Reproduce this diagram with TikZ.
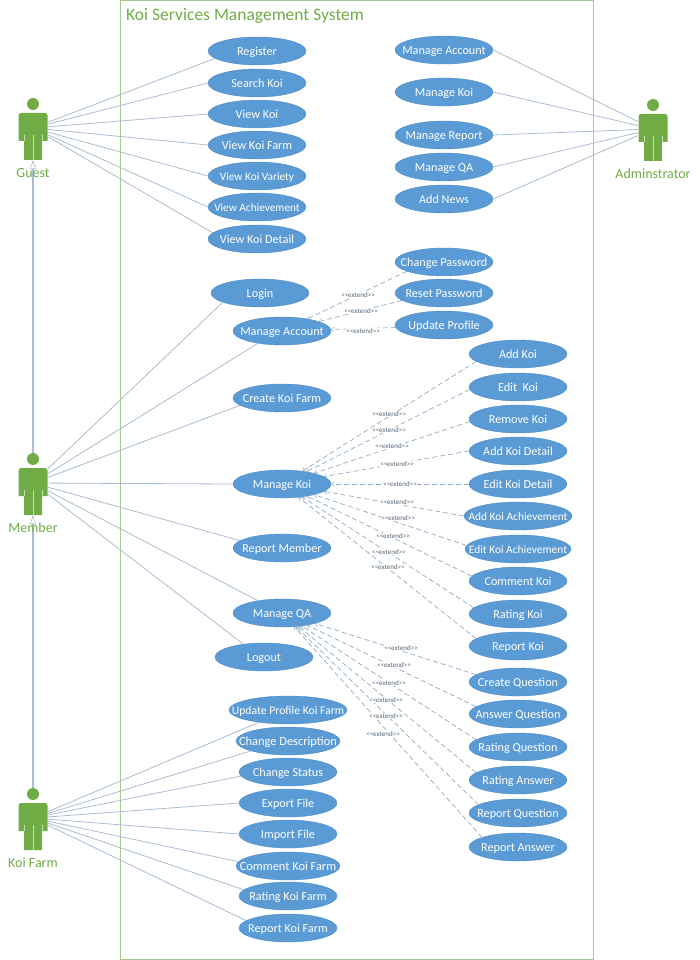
\documentclass[tikz,border=0pt]{standalone}
\usepackage{fontspec}
\setmainfont{Carlito}
\usetikzlibrary{arrows.meta,shapes.geometric}
\definecolor{usecaseblue}{HTML}{5B9BD5}
\definecolor{usecaseedge}{HTML}{4C8AC6}
\definecolor{actorgreen}{HTML}{6FAC46}
\definecolor{systemgreen}{HTML}{A9CB90}
\definecolor{linkgrey}{HTML}{A9BCD0}
\definecolor{extendgrey}{HTML}{8FAAC5}
\newcommand{\xtend}{<\kern0pt<extend>\kern0pt>}
\tikzset{
	usecase/.style={ellipse,fill=usecaseblue,draw=usecaseedge,line width=.4pt,minimum width=98pt,minimum height=28pt,inner xsep=-25pt,inner ysep=0pt,text height=9.5pt,text depth=0pt,text=white,font=\fontsize{12.2}{13}\selectfont},
	textsize/.style={font=\fontsize{#1}{13}\selectfont},
	assoc/.style={draw=linkgrey,line width=.8pt},
	inherit/.style={draw=linkgrey,line width=1.1pt,-{Triangle[open,length=9pt,width=6pt,line width=.6pt]}},
	extendline/.style={draw=extendgrey,line width=.7pt,dash pattern=on 5pt off 3pt,-{Straight Barb[length=3pt,width=5pt,line width=.4pt]}},
	extendlabel/.style={fill=white,inner sep=.3pt,text=extendgrey!60!black,font=\fontsize{7}{8}\selectfont},
	actorlabel/.style={text=actorgreen,font=\fontsize{14}{15}\selectfont,inner sep=0pt},
	actorman/.pic={
		\fill[actorgreen] (-14.5,13) [rounded corners=2.5pt] -- (-14.5,-15) -- (14.5,-15) [sharp corners] -- (14.5,13) -- (9,13) -- (9,32) -- (-9,32) -- (-9,13) -- cycle;
		\draw[white!60!actorgreen,line width=.7pt] (-9,7) -- (-9,13) (9,7) -- (9,13) (0,7) -- (0,32);
		\node[circle,fill=actorgreen,minimum size=12pt,inner sep=0pt] (-head) at (0,-24) {};
		\node[minimum width=30pt,minimum height=30pt,inner sep=0pt] (-body) at (0,0) {};
		\coordinate (-foot) at (0,32);
	}
}
\begin{document}
\begin{tikzpicture}[x=1pt,y=-1pt]
	\useasboundingbox (0,0) rectangle (699,960);
	\draw[systemgreen,line width=1pt] (120,1) rectangle (593,959);
	\node[anchor=west,text=actorgreen,inner sep=0pt,font=\fontsize{17.5}{18}\selectfont] (title) at (126,16) {Koi Services Management System};

	\pic (guest) at (33,128) {actorman};
	\pic (admin) at (653,129) {actorman};
	\pic (member) at (33,483) {actorman};
	\pic (koifarm) at (33,818) {actorman};

	% guest
	\node[usecase] (register) at (257,51) {Register};
	\node[usecase] (searchkoi) at (257,83) {Search Koi};
	\node[usecase] (viewkoi) at (257,114) {View Koi};
	\node[usecase] (viewfarm) at (257,145) {View Koi Farm};
	\node[usecase,textsize=11.3] (viewvariety) at (257,176) {View Koi Variety};
	\node[usecase,textsize=11.3] (viewachieve) at (257,207) {View Achievement};
	\node[usecase] (viewdetail) at (257,239) {View Koi Detail};

	% admin
	\node[usecase] (adminaccount) at (444,50) {Manage Account};
	\node[usecase] (adminkoi) at (444,92) {Manage Koi};
	\node[usecase] (adminreport) at (444,135) {Manage Report};
	\node[usecase] (adminqa) at (444,167) {Manage QA};
	\node[usecase] (adminnews) at (444,199) {Add News};

	% member
	\node[usecase] (login) at (260,293) {Login};
	\node[usecase] (account) at (282,331) {Manage Account};
	\node[usecase] (createfarm) at (282,398) {Create Koi Farm};
	\node[usecase] (managekoi) at (282,484) {Manage Koi};
	\node[usecase] (reportmember) at (282,548) {Report Member};
	\node[usecase] (manageqa) at (282,613) {Manage QA};
	\node[usecase] (logout) at (264,657) {Logout};

	\node[usecase] (changepw) at (444,262) {Change Password};
	\node[usecase] (resetpw) at (444,293) {Reset Password};
	\node[usecase] (updateprofile) at (444,325) {Update Profile};

	\node[usecase] (addkoi) at (518,354) {Add Koi};
	\node[usecase] (editkoi) at (518,387) {Edit~~Koi};
	\node[usecase] (removekoi) at (518,419) {Remove Koi};
	\node[usecase] (adddetail) at (518,451) {Add Koi Detail};
	\node[usecase] (editdetail) at (518,484) {Edit Koi Detail};
	\node[usecase,minimum width=108pt,textsize=11.4] (addachieve) at (518,516) {Add Koi Achievement};
	\node[usecase,minimum width=106pt,textsize=11.4] (editachieve) at (518,549) {Edit Koi Achievement};
	\node[usecase] (commentkoi) at (518,581) {Comment Koi};
	\node[usecase] (ratingkoi) at (518,614) {Rating Koi};
	\node[usecase] (reportkoi) at (518,646) {Report Koi};

	\node[usecase] (createq) at (518,682) {Create Question};
	\node[usecase] (answerq) at (518,714) {Answer Question};
	\node[usecase] (ratingq) at (518,747) {Rating Question};
	\node[usecase] (ratinga) at (518,780) {Rating Answer};
	\node[usecase] (reportq) at (518,813) {Report Question};
	\node[usecase] (reporta) at (518,847) {Report Answer};

	% koi farm
	\node[usecase,minimum width=118pt,textsize=11.7] (updatefarm) at (288,710) {Update Profile Koi Farm};
	\node[usecase,minimum width=104pt,textsize=12.4] (changedesc) at (288,741) {Change Description};
	\node[usecase] (changestatus) at (288,772) {Change Status};
	\node[usecase] (exportfile) at (288,803) {Export File};
	\node[usecase] (importfile) at (288,834) {Import File};
	\node[usecase,minimum width=104pt,textsize=12.4] (commentfarm) at (288,866) {Comment Koi Farm};
	\node[usecase] (ratingfarm) at (288,896) {Rating Koi Farm};
	\node[usecase] (reportfarm) at (288,928) {Report Koi Farm};

	\draw[assoc] (guest-body) -- (register.190);
	\draw[assoc] (guest-body) -- (searchkoi.west);
	\draw[assoc] (guest-body) -- (viewkoi.west);
	\draw[assoc] (guest-body) -- (viewfarm.west);
	\draw[assoc] (guest-body) -- (viewvariety.west);
	\draw[assoc] (guest-body) -- (viewachieve.west);
	\draw[assoc] (guest-body) -- (viewdetail.172);

	\draw[assoc] (admin-body) -- (adminaccount.east);
	\draw[assoc] (admin-body) -- (adminkoi.east);
	\draw[assoc] (admin-body) -- (adminreport.east);
	\draw[assoc] (admin-body) -- (adminqa.east);
	\draw[assoc] (admin-body) -- (adminnews.east);

	\draw[assoc] (member-body) -- (login.194);
	\draw[assoc] (member-body) -- (account.207);
	\draw[assoc] (member-body) -- (createfarm.190);
	\draw[assoc] (member-body) -- (managekoi.west);
	\draw[assoc] (member-body) -- (reportmember.170);
	\draw[assoc] (member-body) -- (manageqa.153);
	\draw[assoc] (member-body) -- (logout.148);

	\draw[assoc] (koifarm-body) -- (updatefarm.203);
	\draw[assoc] (koifarm-body) -- (changedesc.195);
	\draw[assoc] (koifarm-body) -- (changestatus.185);
	\draw[assoc] (koifarm-body) -- (exportfile.west);
	\draw[assoc] (koifarm-body) -- (importfile.west);
	\draw[assoc] (koifarm-body) -- (commentfarm.175);
	\draw[assoc] (koifarm-body) -- (ratingfarm.172);
	\draw[assoc] (koifarm-body) -- (reportfarm.170);

	\draw[inherit] (member-head) -- (guest-foot);
	\draw[inherit] (koifarm-head) -- (member-foot);

	\draw[extendline] (changepw.194) -- (account);
	\draw[extendline] (resetpw.190) -- (account);
	\draw[extendline] (updateprofile.183) -- (account);

	\draw[extendline] (addkoi.190) -- (managekoi);
	\draw[extendline] (editkoi.183) -- (managekoi);
	\draw[extendline] (removekoi.183) -- (managekoi);
	\draw[extendline] (adddetail.west) -- (managekoi);
	\draw[extendline] (editdetail.west) -- (managekoi);
	\draw[extendline] (addachieve.west) -- (managekoi);
	\draw[extendline] (editachieve.176) -- (managekoi);
	\draw[extendline] (commentkoi.174) -- (managekoi);
	\draw[extendline] (ratingkoi.172) -- (managekoi);
	\draw[extendline] (reportkoi.170) -- (managekoi);

	\draw[extendline] (createq.170) -- (manageqa);
	\draw[extendline] (answerq.170) -- (manageqa);
	\draw[extendline] (ratingq.170) -- (manageqa);
	\draw[extendline] (ratinga.170) -- (manageqa);
	\draw[extendline] (reportq.168) -- (manageqa);
	\draw[extendline] (reporta.165) -- (manageqa);

	\node[extendlabel] (xa1) at (358,295) {\xtend};
	\node[extendlabel] (xa2) at (361,311) {\xtend};
	\node[extendlabel] (xa3) at (363,331) {\xtend};

	\node[extendlabel] (xk1) at (389,414) {\xtend};
	\node[extendlabel] (xk2) at (389,430) {\xtend};
	\node[extendlabel] (xk3) at (392,446) {\xtend};
	\node[extendlabel] (xk4) at (397,464) {\xtend};
	\node[extendlabel] (xk5) at (400,484) {\xtend};
	\node[extendlabel] (xk6) at (397,502) {\xtend};
	\node[extendlabel] (xk7) at (398,518) {\xtend};
	\node[extendlabel] (xk8) at (393,536) {\xtend};
	\node[extendlabel] (xk9) at (389,552) {\xtend};
	\node[extendlabel] (xk10) at (388,567) {\xtend};

	\node[extendlabel] (xq1) at (401,648) {\xtend};
	\node[extendlabel] (xq2) at (394,665) {\xtend};
	\node[extendlabel] (xq3) at (389,683) {\xtend};
	\node[extendlabel] (xq4) at (386,700) {\xtend};
	\node[extendlabel] (xq5) at (386,716) {\xtend};
	\node[extendlabel] (xq6) at (383,734) {\xtend};

	\node[actorlabel] (guestlabel) at (33,173) {Guest};
	\node[actorlabel] (adminlabel) at (653,174) {Adminstrator};
	\node[actorlabel] (memberlabel) at (33,528) {Member};
	\node[actorlabel] (koifarmlabel) at (33,863) {Koi Farm};
\end{tikzpicture}
\end{document}
